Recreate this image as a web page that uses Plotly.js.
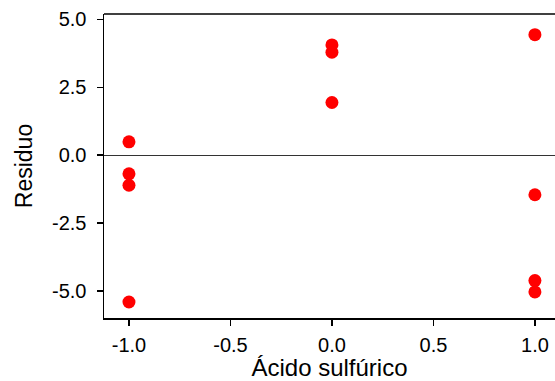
<!DOCTYPE html>
<html>
<head>
<meta charset="utf-8">
<script src="https://cdn.plot.ly/plotly-3.0.1.min.js"></script>
<style>html,body{margin:0;padding:0;background:#fff;}#chart{width:555px;height:381px;}</style>
</head>
<body>
<div id="chart"></div>
<script>
const acidoSulfurico = [-1, -1, -1, -1, 0, 0, 0, 1, 1, 1, 1];
const residuo = [0.49, -0.69, -1.11, -5.41, 4.06, 3.79, 1.94, 4.44, -1.46, -4.62, -5.04];
const xTickVals = [-1.0, -0.5, 0.0, 0.5, 1.0];
const xTickText = ["-1.0", "-0.5", "0.0", "0.5", "1.0"];
const yTickVals = [-5.0, -2.5, 0.0, 2.5, 5.0];
const yTickText = ["-5.0", "-2.5", "0.0", "2.5", "5.0"];

const trace = {
  x: acidoSulfurico,
  y: residuo,
  type: 'scatter',
  mode: 'markers',
  marker: {color: '#ff0000', size: 13, line: {width: 0}},
  hoverinfo: 'x+y'
};

const fam = '"Liberation Sans", Arial, sans-serif';

const layout = {
  width: 555,
  height: 381,
  margin: {l: 104, r: 0, t: 14, b: 63, pad: 0},
  paper_bgcolor: '#fff',
  plot_bgcolor: '#fff',
  showlegend: false,
  font: {family: fam, color: '#000'},
  xaxis: {
    range: [-1.123, 1.099],
    tickvals: xTickVals,
    ticktext: xTickText,
    ticks: 'outside',
    ticklen: 6,
    tickwidth: 1.5,
    tickcolor: '#000',
    ticklabelstandoff: 2,
    showline: true,
    linecolor: '#000',
    linewidth: 1.5,
    showgrid: false,
    zeroline: false,
    automargin: false,
    tickfont: {size: 20, family: fam, color: '#000'},
    title: {text: 'Ácido sulfúrico', font: {size: 24, family: fam, color: '#000'}, standoff: 4}
  },
  yaxis: {
    range: [-6.0, 5.2],
    tickvals: yTickVals,
    ticktext: yTickText,
    ticks: 'outside',
    ticklen: 6,
    tickwidth: 1.5,
    tickcolor: '#000',
    ticklabelstandoff: 6,
    showline: true,
    linecolor: '#000',
    linewidth: 1.5,
    showgrid: false,
    zeroline: true,
    zerolinecolor: '#333',
    zerolinewidth: 1.2,
    automargin: false,
    tickfont: {size: 20, family: fam, color: '#000'},
    title: {text: 'Residuo', font: {size: 23, family: fam, color: '#000'}, standoff: 13}
  },
  shapes: [{
    type: 'line', xref: 'paper', yref: 'paper',
    x0: 0, x1: 1, y0: 1, y1: 1,
    line: {color: '#000', width: 1.5}
  }]
};

Plotly.newPlot('chart', [trace], layout, {staticPlot: true, displayModeBar: false});
</script>
</body>
</html>
